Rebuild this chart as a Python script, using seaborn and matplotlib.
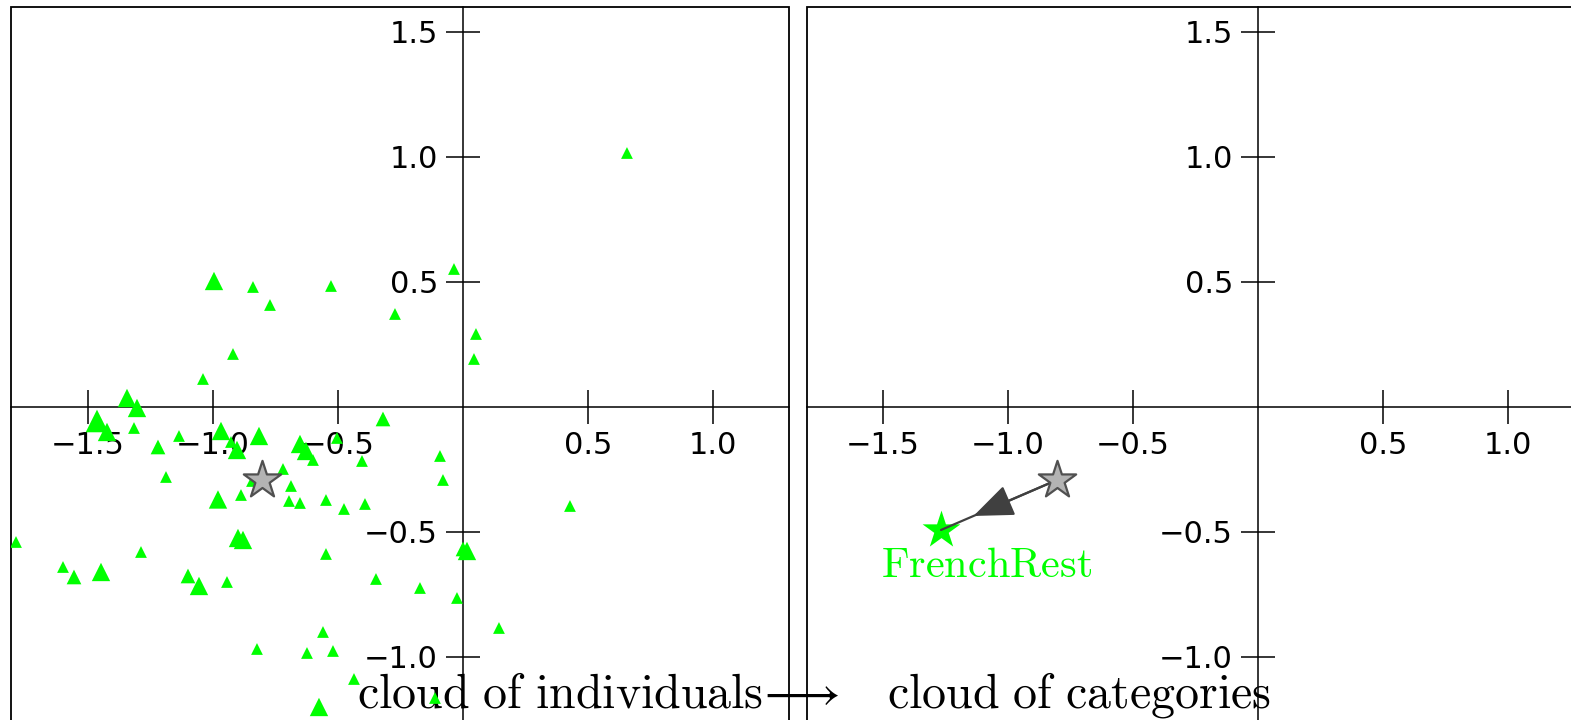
import matplotlib
matplotlib.use("Agg")
import matplotlib.pyplot as plt
import seaborn as sns
import pandas as pd
from matplotlib.patches import Rectangle

# individuals (dim 1, dim 2) and their weight class
ind_x = [0.656, -0.036, -0.84, -0.772, -0.528, -0.272, 0.052, 0.044, -0.92, -1.04,
         -1.316, -1.136, -1.188, -0.928, -0.6, -0.504, -0.404, -0.092, -0.08, -0.72,
         -0.688, -0.844, -0.888, -0.696, -0.652, -0.548, -0.476, -0.392, 0.428, -1.788,
         -1.6, -1.288, -0.944, -0.548, -0.348, -0.172, -0.024, 0.144, -0.56, -0.824,
         -0.624, -0.52, -0.436, -0.112,
         -1.22, -0.32, -1.556, -1.1, 0.0,
         -0.996, -1.344, -1.304, -1.424, -0.968, -0.904, -0.816, -0.652, -0.628, -0.98,
         -1.448, -1.056, -0.9, -0.88, 0.016, -0.576,
         -1.464]
ind_y = [1.016, 0.552, 0.48, 0.408, 0.484, 0.372, 0.292, 0.192, 0.212, 0.112,
         -0.084, -0.116, -0.28, -0.14, -0.212, -0.124, -0.216, -0.196, -0.292, -0.248,
         -0.316, -0.296, -0.352, -0.376, -0.384, -0.372, -0.408, -0.388, -0.396, -0.54,
         -0.64, -0.58, -0.7, -0.588, -0.688, -0.724, -0.764, -0.884, -0.9, -0.968,
         -0.984, -0.976, -1.088, -1.164,
         -0.16, -0.048, -0.68, -0.676, -0.568,
         0.504, 0.036, -0.004, -0.1, -0.096, -0.172, -0.116, -0.148, -0.176, -0.37,
         -0.66, -0.716, -0.524, -0.532, -0.576, -1.2,
         -0.056]
ind_w = [1] * 44 + [2] * 5 + [3] * 16 + [4]

# mean point of the cloud and the category point
mean_pt = (-0.804, -0.292)
cat_pt = (-1.268, -0.492)
cat_name = "FrenchRest"

xticks = [-1.5, -1.0, -0.5, 0.5, 1.0]
yticks = [-1.0, -0.5, 0.5, 1.0, 1.5]

GREEN = "#00ff00"

sns.set_style("white")
plt.rcParams["font.family"] = ["DejaVu Sans"]
plt.rcParams["mathtext.fontset"] = "cm"

df = pd.DataFrame({"x": ind_x, "y": ind_y, "w": ind_w})

fig = plt.figure(figsize=(15.71, 7.2), dpi=100)
ax1 = fig.add_axes([0.0070, -0.0194, 0.4952, 1.0097])
ax2 = fig.add_axes([0.5137, -0.0194, 0.4952, 1.0097])


def setup(ax, xlim):
    ax.set_facecolor("none")
    ax.set_xlim(*xlim)
    ax.set_ylim(-1.308, 1.6)
    for s in ["top", "right"]:
        ax.spines[s].set_visible(False)
    ax.spines["left"].set_position(("data", 0))
    ax.spines["bottom"].set_position(("data", 0))
    for s in ["left", "bottom"]:
        ax.spines[s].set_linewidth(1.1)
        ax.spines[s].set_color("black")
    ax.add_patch(Rectangle((0, 0), 1, 1, transform=ax.transAxes, fill=False,
                           lw=1.3, ec="black", clip_on=False, zorder=2.6))
    ax.set_xticks(xticks)
    ax.set_yticks(yticks)
    ax.set_xticklabels([f"{v:.1f}".replace("-", "\u2212") for v in xticks])
    ax.set_yticklabels([f"{v:.1f}".replace("-", "\u2212") for v in yticks])
    ax.tick_params(bottom=True, left=True, top=False, right=False,
                   direction="inout", length=24, width=1.1, labelsize=22,
                   color="black", labelcolor="black")
    ax.tick_params(axis="x", pad=5)
    ax.tick_params(axis="y", pad=6)
    ax.set_xlabel("")
    ax.set_ylabel("")


# left: cloud of individuals
sns.scatterplot(data=df, x="x", y="y", size="w",
                sizes={1: 72, 2: 112, 3: 175, 4: 265},
                marker="^", color=GREEN, linewidth=0, legend=False,
                zorder=3, ax=ax1)
sns.scatterplot(x=[mean_pt[0]], y=[mean_pt[1]], marker="*", s=800,
                color="#b3b3b3", edgecolor="#505050", linewidth=1.6,
                zorder=5, ax=ax1)
setup(ax1, (-1.808, 1.304))

# right: cloud of categories
sns.scatterplot(x=[cat_pt[0]], y=[cat_pt[1]], marker="*", s=820,
                color=GREEN, linewidth=0, zorder=3, ax=ax2)
sns.scatterplot(x=[mean_pt[0]], y=[mean_pt[1]], marker="*", s=800,
                color="#b3b3b3", edgecolor="#505050", linewidth=1.6,
                zorder=5, ax=ax2)
ax2.plot([mean_pt[0], cat_pt[0]], [mean_pt[1], cat_pt[1]],
         color="#404040", lw=1.6, zorder=4)
f = 0.72
tip = (mean_pt[0] + f * (cat_pt[0] - mean_pt[0]),
       mean_pt[1] + f * (cat_pt[1] - mean_pt[1]))
ax2.annotate("", xy=tip, xytext=mean_pt,
             arrowprops=dict(arrowstyle="-|>,head_length=1.25,head_width=0.5",
                             color="#404040", lw=1.6, mutation_scale=20,
                             shrinkA=0, shrinkB=0),
             zorder=4)
ax2.text(-1.084, -0.68, r"$\mathrm{" + cat_name + "}$", color=GREEN,
         fontsize=30.5, ha="center", va="baseline", zorder=4)
setup(ax2, (-1.804, 1.308))

fig.text(357 / 1571, 12 / 720, r"$\mathrm{cloud\ of\ individuals}\!\longrightarrow$",
         fontsize=34.5, color="black", ha="left", va="baseline", zorder=-1)
fig.text(887 / 1571, 12 / 720, r"$\mathrm{cloud\ of\ categories}$",
         fontsize=34.5, color="black", ha="left", va="baseline", zorder=-1)

fig.savefig("out.png", dpi=100, facecolor="white")
